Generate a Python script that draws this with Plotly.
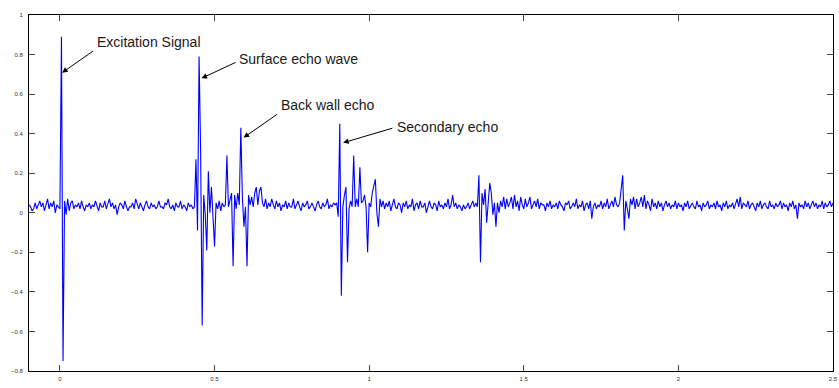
import numpy as np
import plotly.graph_objects as go

# sampling of the record (x axis in units of 1e-4 s)
t_start = -0.1
t_step = 0.005

# amplitude values, segment by segment
seg_pre = [0.04, 0.03, 0.01, 0.02, 0.05, 0.02, 0.04, 0.06, 0.03, 0.05,
           0.01, 0.04, 0.07, 0.02, 0.05, 0.03, 0.06, 0.00, 0.04, 0.03]
seg_excitation = [0.02, 0.89, -0.75, 0.06, -0.01, 0.07, 0.01, 0.05, 0.06, 0.02, 0.04]
seg_gap1 = [0.03, 0.05, 0.02, 0.06, 0.03, 0.01, 0.04, 0.03, 0.05, 0.02,
            0.04, 0.03, 0.06, 0.04, 0.01, 0.05, 0.03, 0.03, 0.06, 0.02,
            0.04, 0.07, 0.03, 0.05, 0.02, 0.04, -0.01, 0.03, 0.05, 0.04,
            0.02, 0.06, 0.03, 0.01, 0.03, 0.03, 0.05, 0.02, 0.07, 0.04,
            0.02, 0.05, 0.03, 0.01, 0.04, 0.06, 0.03, 0.02, 0.05, 0.03,
            0.04, 0.02, 0.03, 0.06, 0.03, 0.03, 0.02, 0.05, 0.04, 0.07,
            0.03, 0.02, 0.04, 0.01, 0.05, 0.03, 0.03, 0.06, 0.02, 0.04,
            0.03, 0.01, 0.05, 0.03, 0.04, 0.02]
seg_surface_backwall = [0.03, 0.27, -0.09, 0.79, 0.31, -0.57, 0.09, -0.01, -0.19, 0.21,
                        0.00, 0.13, -0.02, -0.17, 0.05, 0.02, 0.06, 0.01, 0.05, 0.03,
                        0.04, 0.29, 0.03, 0.07, 0.10, -0.27, 0.09, 0.02, 0.10, 0.04,
                        0.43, 0.08, -0.07, 0.03, -0.27, 0.09, 0.04, 0.08, 0.03, 0.10,
                        0.13, 0.04, 0.11, 0.13, 0.05, 0.03, 0.07, 0.02]
seg_gap2 = [0.05, 0.03, 0.07, 0.04, 0.02, 0.06, 0.03, 0.05, 0.01, 0.04,
            0.03, 0.06, 0.02, 0.05, 0.03, 0.03, 0.07, 0.02, 0.04, 0.06,
            0.03, 0.01, 0.05, 0.03, 0.04, 0.06, 0.02, 0.03, 0.05, 0.03,
            0.01, 0.04, 0.06, 0.03, 0.02, 0.05, 0.03, 0.04, 0.07, 0.02,
            0.04, 0.03, 0.05]
seg_secondary = [0.04, 0.05, -0.02, 0.45, -0.42, 0.03, 0.09, 0.13, -0.25, 0.02,
                 0.06, 0.03, 0.29, 0.03, 0.07, 0.03, 0.23, 0.05, 0.06, 0.09,
                 0.03, -0.20, 0.05, 0.03, 0.10, 0.13, 0.17, 0.00, -0.07, 0.07,
                 0.03, 0.06]
seg_gap3 = [0.02, 0.05, 0.03, 0.06, 0.01, 0.04, 0.07, 0.03, 0.02, 0.05,
            0.04, 0.00, 0.05, 0.03, 0.06, 0.02, 0.04, 0.03, 0.07, 0.01,
            0.04, 0.05, 0.02, 0.06, 0.03, 0.03, 0.05, 0.00, 0.04, 0.06,
            0.03, 0.02, 0.05, 0.04, 0.01, 0.06, 0.03, 0.04, 0.02, 0.05,
            0.03, 0.07, 0.02, 0.04, 0.09, 0.03, 0.05, 0.02, 0.04, 0.03,
            0.01, 0.04, 0.02, 0.03, 0.05, 0.02, 0.04, 0.06, 0.03, 0.05]
seg_third = [0.03, 0.19, -0.25, 0.10, 0.04, 0.12, -0.05, 0.06, 0.15, 0.10,
             -0.01, 0.05, -0.07, 0.05, 0.00, 0.06, 0.03, 0.08, 0.02, 0.07, 0.03]
seg_gap4 = [0.05, 0.08, 0.02, 0.09, 0.03, 0.06, 0.01, 0.08, 0.04, 0.02,
            0.07, 0.03, 0.05, 0.08, 0.02, 0.04, 0.06, 0.03, 0.07, 0.02,
            0.05, 0.04, 0.04, 0.01, 0.05, 0.03, 0.06, 0.02, 0.04, 0.03,
            0.05, 0.02, 0.06, 0.04, 0.03, 0.01, 0.05, 0.04, 0.06, 0.02,
            0.03, 0.05, 0.03, 0.07, 0.02, 0.04, 0.03, 0.06, 0.01, 0.04,
            0.05, 0.02, 0.06, -0.03, 0.03, 0.05, 0.02, 0.04, 0.03, 0.06,
            0.02, 0.05, 0.03, 0.07, 0.02, 0.04, 0.06, 0.03, 0.08, 0.04]
seg_fourth = [0.03, 0.05, 0.13, 0.19, -0.09, 0.06, 0.02, -0.03, 0.07, 0.04,
              0.08, 0.02, 0.07, 0.03, 0.05]
seg_tail = [0.08, 0.03, 0.09, 0.02, 0.06, 0.04, 0.01, 0.07, 0.03, 0.05,
            0.02, 0.06, 0.03, 0.05, 0.01, 0.04, 0.06, 0.03, 0.05, 0.02,
            0.04, 0.03, 0.06, 0.02, 0.05, 0.03, 0.04, 0.01, 0.05, 0.03,
            0.06, 0.02, 0.04, 0.05, 0.03, 0.02, 0.06, 0.03, 0.04, 0.01,
            0.05, 0.03, 0.04, 0.06, 0.02, 0.04, 0.03, 0.05, 0.02, 0.06,
            0.03, 0.04, 0.01, 0.05, 0.03, 0.06, 0.02, 0.04, 0.03, 0.05,
            0.02, 0.04, 0.07, 0.03, 0.08, 0.02, 0.05, 0.04, 0.03, 0.06,
            0.02, 0.04, 0.05, 0.03, 0.01, 0.05, 0.03, 0.06, 0.02, 0.04,
            0.05, 0.03, 0.02, 0.06, 0.03, 0.04, 0.02, 0.05, 0.03, 0.04,
            0.06, 0.02, 0.05, 0.03, 0.04, 0.01, 0.05, 0.03, 0.06, 0.02,
            0.04, -0.03, 0.05, 0.03, 0.04, 0.02, 0.06, 0.03, 0.05, 0.02,
            0.04, 0.06, 0.03, 0.05, 0.02, 0.04, 0.03, 0.06, 0.02, 0.05,
            0.03, 0.04, 0.06, 0.03, 0.05]

x_tickvals = [0, 0.5, 1, 1.5, 2, 2.5]
x_ticktext = ["0", "0.5", "1", "1.5", "2", "2.5"]
y_tickvals = [-0.8, -0.6, -0.4, -0.2, 0, 0.2, 0.4, 0.6, 0.8, 1]
y_ticktext = ["\u22120.8", "\u22120.6", "\u22120.4", "\u22120.2", "0", "0.2", "0.4", "0.6", "0.8", "1"]

signal = np.array(seg_pre + seg_excitation + seg_gap1 + seg_surface_backwall + seg_gap2
                  + seg_secondary + seg_gap3 + seg_third + seg_gap4 + seg_fourth + seg_tail)
t = t_start + t_step * np.arange(len(signal))

fig = go.Figure()
fig.add_trace(go.Scatter(x=t, y=signal, mode="lines",
                         line=dict(color="#0000ff", width=1.1), showlegend=False,
                         hoverinfo="skip"))

label_font = dict(family="Liberation Sans, Arial, Helvetica, sans-serif", size=14, color="#1a1a1a")
# (label, text anchor x, y, arrow tail x, y, arrow head x, y) in data units
callouts = [
    ("Excitation Signal", 0.115, 0.864, 0.112, 0.823, 0.007, 0.708),
    ("Surface echo wave", 0.573, 0.778, 0.573, 0.764, 0.458, 0.680),
    ("Back wall echo", 0.710, 0.545, 0.707, 0.503, 0.594, 0.380),
    ("Secondary echo", 1.083, 0.432, 1.080, 0.430, 0.916, 0.354),
]
for txt, tx, ty, ax, ay, hx, hy in callouts:
    fig.add_annotation(x=tx, y=ty, xref="x", yref="y", text=txt, showarrow=False,
                       xanchor="left", yanchor="middle", font=label_font)
    fig.add_annotation(x=hx, y=hy, ax=ax, ay=ay, xref="x", yref="y", axref="x", ayref="y",
                       text="", showarrow=True, arrowhead=2, arrowsize=1.1,
                       arrowwidth=1, arrowcolor="black")

tick_font = dict(family="Liberation Sans, Arial, Helvetica, sans-serif", size=6, color="#333333")

fig.add_annotation(x=0.985, y=-0.038, xref="paper", yref="paper",
                   text="\u00d710<sup>\u22124</sup>", showarrow=False,
                   xanchor="left", yanchor="top", font=tick_font)

fig.update_xaxes(range=[-0.1, 2.5], tickvals=x_tickvals, ticktext=x_ticktext,
                 ticks="inside", ticklen=6, tickcolor="#444444", tickwidth=1,
                 showline=True, linecolor="black", linewidth=1, mirror="ticks",
                 showgrid=False, zeroline=False, tickfont=tick_font, ticklabelstandoff=2,
                 ticklabeloverflow="allow")
fig.update_yaxes(range=[-0.8, 1], tickvals=y_tickvals, ticktext=y_ticktext,
                 ticks="inside", ticklen=6, tickcolor="#444444", tickwidth=1,
                 showline=True, linecolor="black", linewidth=1, mirror="ticks",
                 showgrid=False, zeroline=False, tickfont=tick_font, ticklabelstandoff=4,
                 ticklabeloverflow="allow")

fig.update_layout(width=839, height=388, margin=dict(l=29, r=1, t=15, b=17),
                  paper_bgcolor="white", plot_bgcolor="white")

fig.write_html("out.html", config={"displayModeBar": False},
               post_script="document.body.style.margin='0';document.body.style.overflow='hidden';")
